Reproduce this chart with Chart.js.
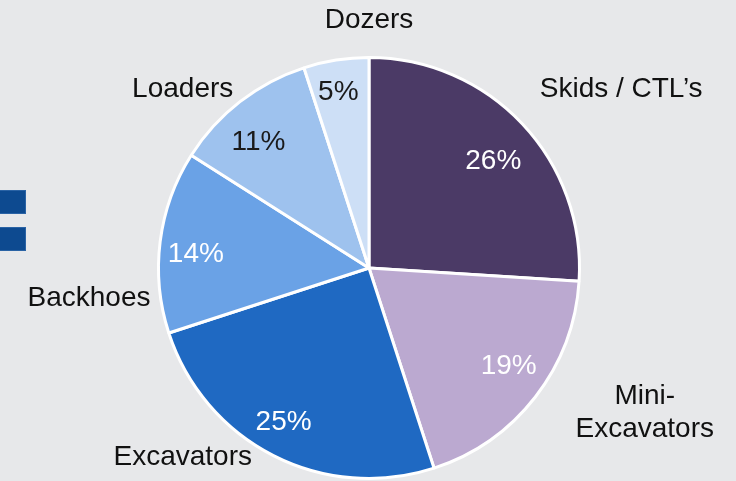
<!DOCTYPE html>
<html>
<head>
<meta charset="utf-8">
<script src="https://cdn.jsdelivr.net/npm/chart.js@4.4.1/dist/chart.umd.min.js"></script>
<style>
  html, body { margin: 0; padding: 0; background: #e7e8ea; }
  #wrap { position: relative; width: 736px; height: 481px; overflow: hidden; background: #e7e8ea; }
  canvas { position: absolute; left: 0; top: 0; }
  .bar { position: absolute; left: 0; width: 26px; height: 24px; background: #0d4a90; border: 1px solid #2a63a5; border-left: none; box-sizing: border-box; }
</style>
</head>
<body>
<div id="wrap">
  <div class="bar" style="top:190px"></div>
  <div class="bar" style="top:227px"></div>
  <canvas id="c" width="736" height="481"></canvas>
</div>
<script>
const categories = ["Skids / CTL\u2019s", "Mini-\nExcavators", "Excavators", "Backhoes", "Loaders", "Dozers"];
const shares = [26, 19, 25, 14, 11, 5];
const sliceColors = ["#4b3a66", "#bba9d0", "#1f69c2", "#6aa2e6", "#9ec2ee", "#cddff6"];
const valueTextColors = ["#ffffff", "#ffffff", "#ffffff", "#ffffff", "#1a1a1a", "#1a1a1a"];

// outer label placement, in units of the pie radius relative to its centre
const outerLabelOffsets = [
  [1.198, -0.847], [1.31, 0.69], [-0.885, 0.9],
  [-1.33, 0.145], [-0.885, -0.85], [0.0, -1.176]
];
// small pixel nudges of the in-slice value labels from the slice mid-angle point
const valueLabelNudges = [[0, 10], [5, -6], [-8, 2], [-4, 8], [-6, 9], [-4, -7]];

const labelPlugin = {
  id: 'pieLabels',
  afterDatasetsDraw(chart) {
    const ctx = chart.ctx;
    const meta = chart.getDatasetMeta(0);
    ctx.save();
    ctx.font = '28px "Liberation Sans", Arial, sans-serif';
    ctx.textAlign = 'center';
    ctx.textBaseline = 'middle';
    meta.data.forEach((arc, i) => {
      const p = arc.getProps(['x', 'y', 'startAngle', 'endAngle', 'outerRadius'], true);
      const mid = (p.startAngle + p.endAngle) / 2;
      const rr = p.outerRadius * 0.81;
      const nd = valueLabelNudges[i];
      ctx.fillStyle = valueTextColors[i];
      ctx.fillText(shares[i] + '%', p.x + Math.cos(mid) * rr + nd[0], p.y + Math.sin(mid) * rr + nd[1]);
      const off = outerLabelOffsets[i];
      const lx = p.x + off[0] * p.outerRadius;
      const ly = p.y + off[1] * p.outerRadius;
      const lines = categories[i].split('\n');
      const lh = 33;
      ctx.fillStyle = '#111111';
      lines.forEach((t, k) => {
        ctx.fillText(t, lx, ly + (k - (lines.length - 1) / 2) * lh);
      });
    });
    ctx.restore();
  }
};

new Chart(document.getElementById('c'), {
  type: 'pie',
  data: {
    labels: categories,
    datasets: [{
      data: shares,
      backgroundColor: sliceColors,
      borderColor: '#ffffff',
      borderWidth: 3
    }]
  },
  options: {
    responsive: false,
    animation: false,
    layout: { padding: { top: 56, bottom: 1, left: 148, right: 146 } },
    plugins: { legend: { display: false }, tooltip: { enabled: false } }
  },
  plugins: [labelPlugin]
});
</script>
</body>
</html>
